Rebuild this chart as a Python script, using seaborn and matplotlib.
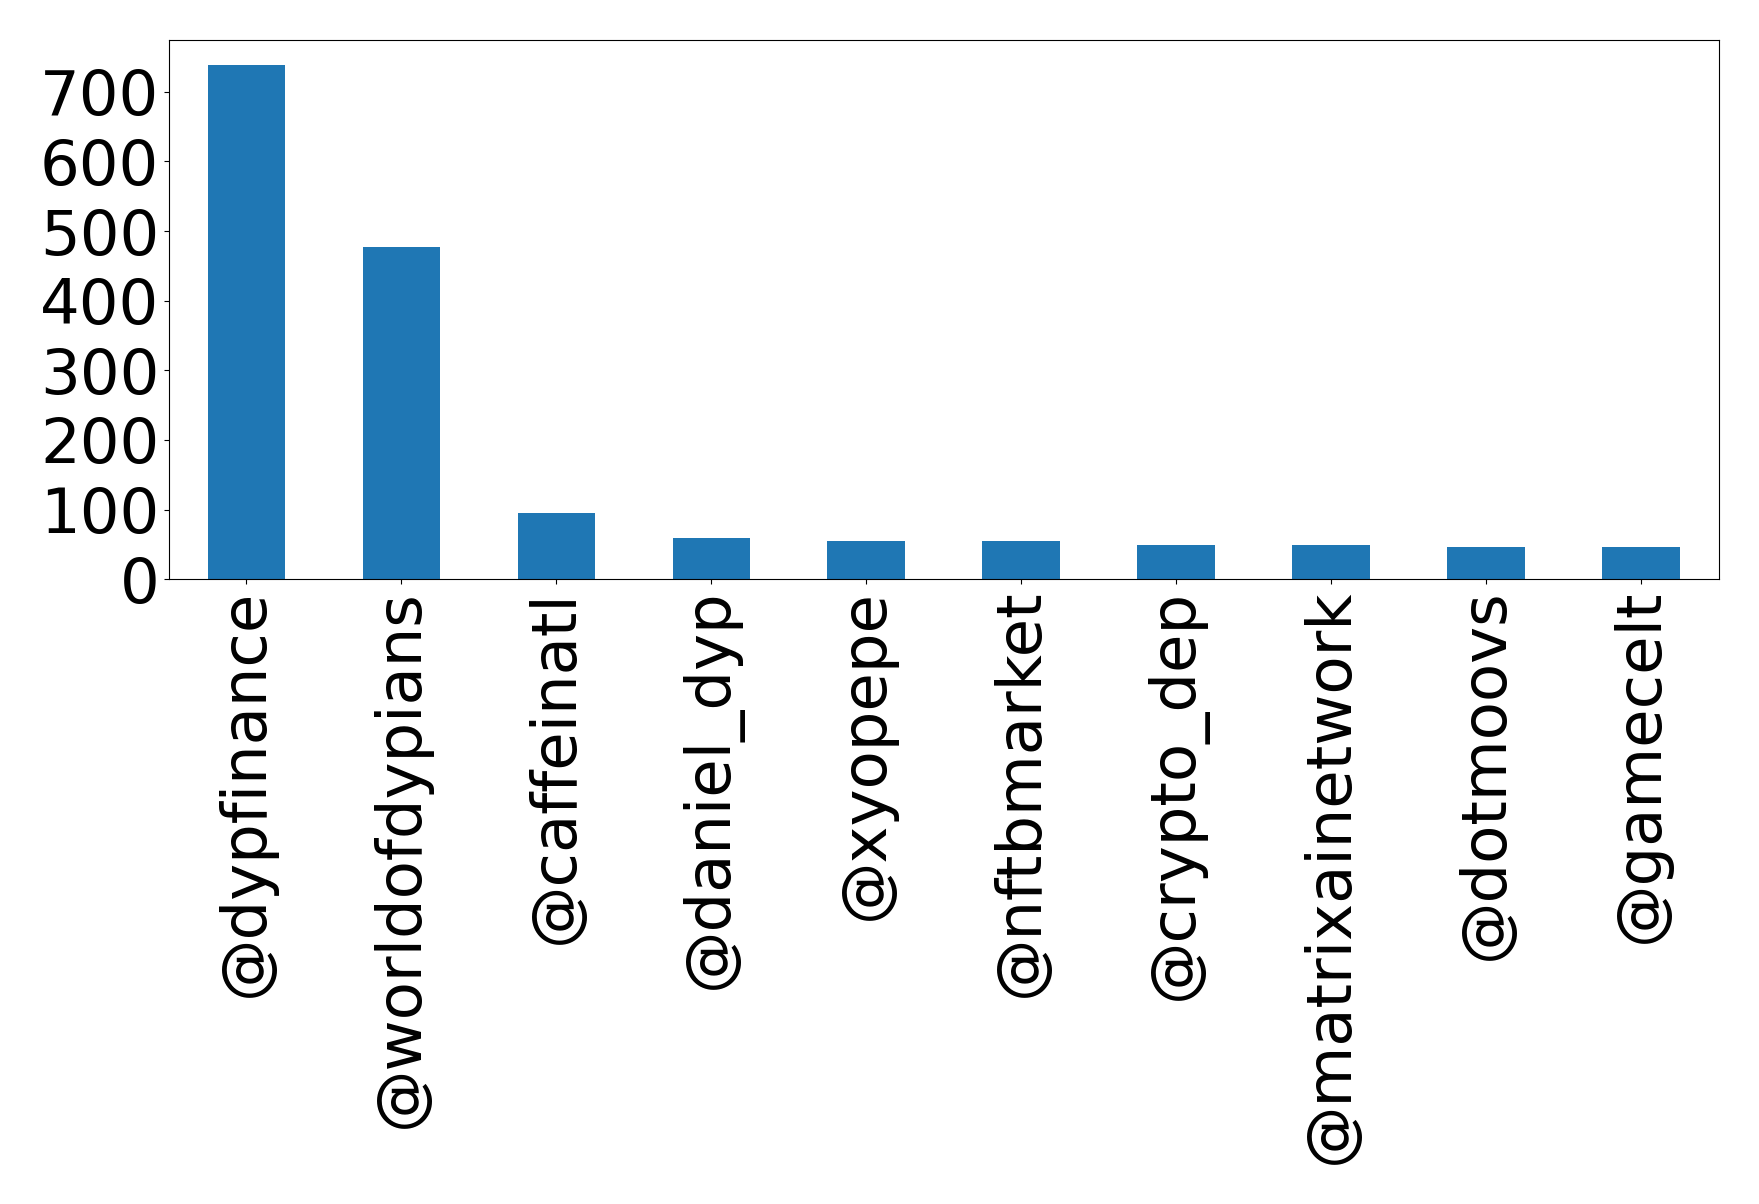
import matplotlib

matplotlib.use("Agg")

import matplotlib.pyplot as plt
import pandas as pd
import seaborn as sns

# Top mentioned accounts and their counts
accounts = [
    "@dypfinance",
    "@worldofdypians",
    "@caffeinatl",
    "@daniel_dyp",
    "@xyopepe",
    "@nftbmarket",
    "@crypto_dep",
    "@matrixainetwork",
    "@dotmoovs",
    "@gamecelt",
]
counts = [738, 477, 95, 59, 55, 55, 49, 49, 46, 46]
y_ticks = [0, 100, 200, 300, 400, 500, 600, 700]

df = pd.DataFrame({"account": accounts, "count": counts})

fig, ax = plt.subplots(figsize=(17.59, 12.04), dpi=100)
sns.barplot(
    data=df, x="account", y="count", color="#1f77b4", saturation=1, width=0.5, ax=ax
)
ax.set_xlim(-0.5, len(accounts) - 0.5)
ax.set_ylim(0, max(counts) * 1.05)
ax.set_yticks(y_ticks)
ax.set_xlabel("")
ax.set_ylabel("")
ax.tick_params(axis="both", labelsize=45)
plt.setp(ax.get_xticklabels(), rotation=90)

fig.subplots_adjust(left=0.096, right=0.977, top=0.967, bottom=0.519)
fig.savefig("out.png", dpi=100)
plt.close(fig)
